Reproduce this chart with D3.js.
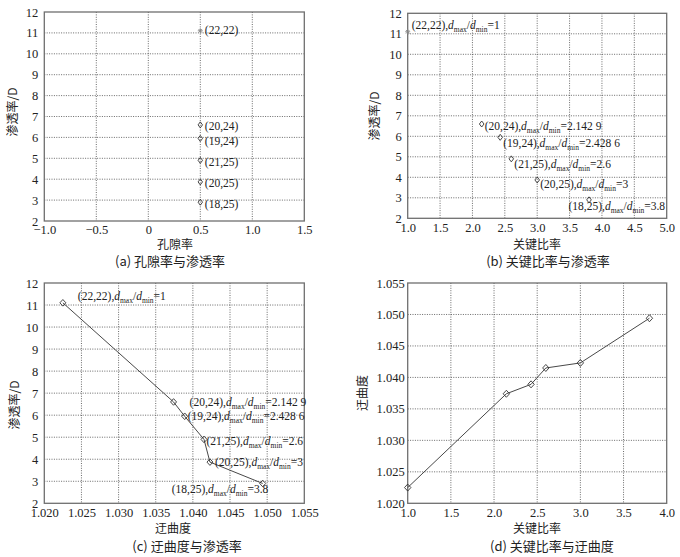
<!DOCTYPE html>
<html>
<head>
<meta charset="utf-8">
<script src="https://cdn.jsdelivr.net/npm/d3@7"></script>
<style>
  html, body { margin: 0; padding: 0; background: #fff; }
  svg { display: block; }
</style>
</head>
<body>
<svg id="chart" width="680" height="557"></svg>
<script>
// ---------------- data ----------------
const throatPairs   = ["(22,22)", "(20,24)", "(19,24)", "(21,25)", "(20,25)", "(18,25)"];
const porosity      = [0.5, 0.5, 0.5, 0.5, 0.5, 0.5];
const permeability  = [11.1, 6.6, 5.95, 4.9, 3.87, 2.9];
const keyRatio      = [1, 2.1429, 2.4286, 2.6, 3, 3.8];
const keyRatioText  = ["1", "2.142 9", "2.428 6", "2.6", "3", "3.8"];
const tortuosity    = [1.0225, 1.0374, 1.0389, 1.0415, 1.0423, 1.0494];

const permTicks      = [2, 3, 4, 5, 6, 7, 8, 9, 10, 11, 12];
const porosityTicks  = [-1.0, -0.5, 0, 0.5, 1.0, 1.5];
const porosityLabels = ["\u22121.0", "\u22120.5", "0", "0.5", "1.0", "1.5"];
const ratioTicksB    = [1.0, 1.5, 2.0, 2.5, 3.0, 3.5, 4.0, 4.5, 5.0];
const ratioTicksD    = [1.0, 1.5, 2.0, 2.5, 3.0, 3.5, 4.0];
const tortTicks      = [1.020, 1.025, 1.030, 1.035, 1.040, 1.045, 1.050, 1.055];

// ---------------- layout ----------------
const SERIF = '"Liberation Serif"';
const CJK = '"Noto Sans CJK SC"';
const svg = d3.select("#chart");

function panel(cfg) {
  const g = svg.append("g");
  const x = d3.scaleLinear().domain(cfg.xDomain).range([cfg.left, cfg.right]);
  const y = d3.scaleLinear().domain(cfg.yDomain).range([cfg.bottom, cfg.top]);

  // grid
  g.append("g").selectAll("line").data(cfg.xTicks.slice(1, -1)).join("line")
    .attr("x1", d => x(d)).attr("x2", d => x(d))
    .attr("y1", cfg.top).attr("y2", cfg.bottom)
    .attr("stroke", "#444").attr("stroke-width", 0.8).attr("stroke-dasharray", "1,1.4");
  g.append("g").selectAll("line").data(cfg.yTicks.slice(1, -1)).join("line")
    .attr("y1", d => y(d)).attr("y2", d => y(d))
    .attr("x1", cfg.left).attr("x2", cfg.right)
    .attr("stroke", "#444").attr("stroke-width", 0.8).attr("stroke-dasharray", "1,1.4");

  // frame
  g.append("rect").attr("x", cfg.left).attr("y", cfg.top)
    .attr("width", cfg.right - cfg.left).attr("height", cfg.bottom - cfg.top)
    .attr("fill", "none").attr("stroke", "#6f6f6f").attr("stroke-width", 1.3);

  // x tick labels via axis
  const xAxis = d3.axisBottom(x).tickValues(cfg.xTicks).tickSize(0).tickPadding(0)
    .tickFormat((d, i) => cfg.xLabels[i]);
  const ax = g.append("g").attr("transform", `translate(0,${cfg.bottom})`).call(xAxis);
  ax.select(".domain").remove();
  ax.selectAll("text").style("font-family", SERIF).style("font-size", "12.5px").attr("fill", "#222")
    .attr("dy", null).attr("y", cfg.xTickY);

  const yAxis = d3.axisLeft(y).tickValues(cfg.yTicks).tickSize(0).tickPadding(cfg.yPad)
    .tickFormat((d, i) => cfg.yLabels[i]);
  const ay = g.append("g").attr("transform", `translate(${cfg.left},0)`).call(yAxis);
  ay.select(".domain").remove();
  ay.selectAll("text").style("font-family", SERIF).style("font-size", "12.5px").attr("fill", "#222");

  // titles
  g.append("text").attr("x", cfg.xTitlePos[0]).attr("y", cfg.xTitlePos[1])
    .attr("text-anchor", "middle").style("font-family", CJK).style("font-size", "12px")
    .attr("fill", "#222").text(cfg.xTitle);
  g.append("text")
    .attr("transform", `translate(${cfg.yTitlePos[0]},${cfg.yTitlePos[1]}) rotate(-90)`)
    .attr("text-anchor", "middle").style("font-family", CJK).style("font-size", "12px")
    .attr("fill", "#222").text(cfg.yTitle);
  g.append("text").attr("x", cfg.capPos[0]).attr("y", cfg.capPos[1])
    .attr("text-anchor", "middle").style("font-family", CJK).style("font-size", "13px")
    .attr("fill", "#222").text(cfg.caption);

  return { g, x, y };
}

function diamond(g, cx, cy, hw, hh) {
  g.append("path")
    .attr("d", `M${cx},${cy - hh}L${cx + hw},${cy}L${cx},${cy + hh}L${cx - hw},${cy}Z`)
    .attr("fill", "none").attr("stroke", "#333").attr("stroke-width", 0.9);
}
function asterisk(g, cx, cy, r) {
  const p = [];
  for (let k = 0; k < 4; k++) {
    const a = Math.PI * k / 4;
    p.push(`M${cx - r * Math.cos(a)},${cy - r * Math.sin(a)}L${cx + r * Math.cos(a)},${cy + r * Math.sin(a)}`);
  }
  g.append("path").attr("d", p.join("")).attr("stroke", "#888").attr("stroke-width", 0.9).attr("fill", "none");
}
function richLabel(g, x, y, pair, ratioTxt) {
  const t = g.append("text").attr("x", x).attr("y", y)
    .style("font-family", SERIF).style("font-size", "11.5px").attr("fill", "#222");
  t.append("tspan").text(pair + ",");
  t.append("tspan").style("font-style", "italic").text("d");
  t.append("tspan").style("font-size", "7.5px").attr("dy", 3).text("max");
  t.append("tspan").attr("dy", -3).text("/");
  t.append("tspan").style("font-style", "italic").text("d");
  t.append("tspan").style("font-size", "7.5px").attr("dy", 3).text("min");
  t.append("tspan").attr("dy", -3).text("=" + ratioTxt);
}
function plainLabel(g, x, y, txt) {
  g.append("text").attr("x", x).attr("y", y)
    .style("font-family", SERIF).style("font-size", "11.5px").attr("fill", "#222").text(txt);
}

const permLabels = permTicks.map(String);

// ---- (a) ----
const A = panel({
  left: 44.3, right: 304.3, top: 12, bottom: 221, xTickY: 13,
  xDomain: [-1.0, 1.5], yDomain: [2, 12],
  xTicks: porosityTicks, xLabels: porosityLabels,
  yTicks: permTicks, yLabels: permLabels, yPad: 6,
  xTitle: "孔隙率", xTitlePos: [175, 248.5],
  yTitle: "渗透率/D", yTitlePos: [17, 112],
  caption: "(a) 孔隙率与渗透率", capPos: [170, 266]
});
const offA = [[4.5, 3.5], [4.5, 5], [4.5, 7], [4.5, 6], [4.5, 5.5], [4.5, 6]];
porosity.forEach((v, i) => {
  const cx = A.x(v), cy = A.y(permeability[i]);
  if (i === 0) asterisk(A.g, cx, cy, 2.5); else diamond(A.g, cx, cy, 2.2, 3);
  plainLabel(A.g, cx + offA[i][0], cy + offA[i][1], throatPairs[i]);
});

// ---- (b) ----
const B = panel({
  left: 407.7, right: 666.7, top: 13.3, bottom: 218.3, xTickY: 13.5,
  xDomain: [1.0, 5.0], yDomain: [2, 12],
  xTicks: ratioTicksB, xLabels: ratioTicksB.map(d => d.toFixed(1)),
  yTicks: permTicks, yLabels: permLabels, yPad: 6,
  xTitle: "关键比率", xTitlePos: [537, 248.5],
  yTitle: "渗透率/D", yTitlePos: [379, 116],
  caption: "(b) 关键比率与渗透率", capPos: [548, 266]
});
const offB = [[4, -3], [3, 6], [3, 9.5], [3, 9], [3, 8.5], [-20.5, 10.5]];
keyRatio.forEach((v, i) => {
  const cx = B.x(v), cy = B.y(permeability[i]);
  if (i === 0) asterisk(B.g, cx, cy, 2.5); else diamond(B.g, cx, cy, 2.3, 3);
  richLabel(B.g, cx + offB[i][0], cy + offB[i][1], throatPairs[i], keyRatioText[i]);
});

// ---- (c) ----
const C = panel({
  left: 44.3, right: 304.3, top: 283, bottom: 503.3, xTickY: 14,
  xDomain: [1.020, 1.055], yDomain: [2, 12],
  xTicks: tortTicks, xLabels: tortTicks.map(d => d.toFixed(3)),
  yTicks: permTicks, yLabels: permLabels, yPad: 6,
  xTitle: "迂曲度", xTitlePos: [173, 533],
  yTitle: "渗透率/D", yTitlePos: [19, 405],
  caption: "(c) 迂曲度与渗透率", capPos: [187, 550.5]
});
C.g.append("path")
  .datum(tortuosity.map((t, i) => [t, permeability[i]]))
  .attr("d", d3.line().x(d => C.x(d[0])).y(d => C.y(d[1])))
  .attr("fill", "none").attr("stroke", "#333").attr("stroke-width", 0.9);
const offC = [[15, -3], [16, 4.5], [3, 4], [2.5, 5.7], [5, 4.3], [-91, 10]];
tortuosity.forEach((v, i) => {
  const cx = C.x(v), cy = C.y(permeability[i]);
  diamond(C.g, cx, cy, 3, 3.3);
  richLabel(C.g, cx + offC[i][0], cy + offC[i][1], throatPairs[i], keyRatioText[i]);
});

// ---- (d) ----
const D = panel({
  left: 407.7, right: 666.7, top: 283, bottom: 503.3, xTickY: 14,
  xDomain: [1.0, 4.0], yDomain: [1.020, 1.055],
  xTicks: ratioTicksD, xLabels: ratioTicksD.map(d => d.toFixed(1)),
  yTicks: tortTicks, yLabels: tortTicks.map(d => d.toFixed(3)), yPad: 3,
  xTitle: "关键比率", xTitlePos: [537, 533],
  yTitle: "迂曲度", yTitlePos: [367, 393],
  caption: "(d) 关键比率与迂曲度", capPos: [552, 550.5]
});
D.g.append("path")
  .datum(keyRatio.map((r, i) => [r, tortuosity[i]]))
  .attr("d", d3.line().x(d => D.x(d[0])).y(d => D.y(d[1])))
  .attr("fill", "none").attr("stroke", "#333").attr("stroke-width", 0.9);
keyRatio.forEach((v, i) => {
  diamond(D.g, D.x(v), D.y(tortuosity[i]), 3.2, 3.5);
});
</script>
</body>
</html>
